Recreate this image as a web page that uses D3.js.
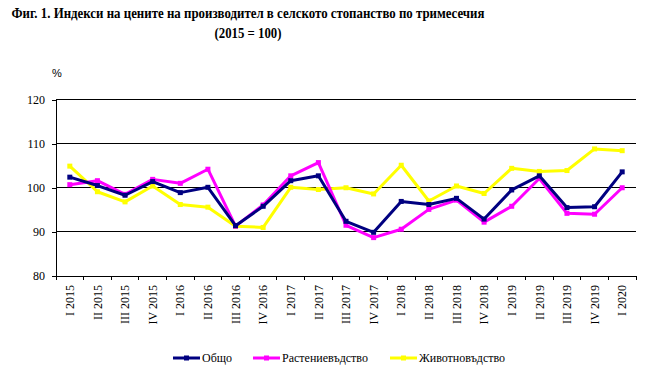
<!DOCTYPE html>
<html><head><meta charset="utf-8">
<script src="https://cdn.jsdelivr.net/npm/d3@7"></script>
<style>body{margin:0;background:#fff}svg{display:block}</style>
</head><body>
<script>
const categories = ["I 2015","II 2015","III 2015","IV 2015","I 2016","II 2016","III 2016","IV 2016","I 2017","II 2017","III 2017","IV 2017","I 2018","II 2018","III 2018","IV 2018","I 2019","II 2019","III 2019","IV 2019","I 2020"];
const total = [102.4,100.5,98.3,101.4,98.9,100.1,91.4,95.8,101.6,102.7,92.4,89.9,96.9,96.2,97.6,92.9,99.5,102.7,95.5,95.7,103.6];
const crops = [100.7,101.6,98.5,101.9,101.0,104.2,91.3,96.1,102.7,105.7,91.5,88.7,90.6,95.1,97.2,92.2,95.8,102.1,94.2,94.0,100.0];
const livestock = [104.9,99.1,96.8,100.4,96.2,95.6,91.3,91.0,100.1,99.6,100.0,98.6,105.1,97.0,100.4,98.7,104.4,103.7,103.9,108.8,108.4];
const yTicks = [80,90,100,110,120];
const seriesNames = ["Общо","Растениевъдство","Животновъдство"];
const seriesColors = ["#000080","#FF00FF","#FFFF00"];

const W=651,H=377;
const svg=d3.select("body").append("svg").attr("width",W).attr("height",H);
const x0=56,x1=636,yTop=99.5,yBot=276;
const x=d3.scaleBand().domain(categories).range([x0,x1]);
const y=d3.scaleLinear().domain([80,120]).range([yBot,yTop]);

svg.append("text").attr("x",248).attr("y",18).attr("text-anchor","middle")
 .attr("font-family","Liberation Serif, Times New Roman, serif").attr("font-weight","bold").attr("font-size",15)
 .attr("textLength",473).attr("lengthAdjust","spacingAndGlyphs")
 .text("Фиг. 1. Индекси на цените на производител в селското стопанство по тримесечия");
svg.append("text").attr("x",248).attr("y",38).attr("text-anchor","middle")
 .attr("font-family","Liberation Serif, Times New Roman, serif").attr("font-weight","bold").attr("font-size",15)
 .attr("textLength",67).attr("lengthAdjust","spacingAndGlyphs")
 .text("(2015 = 100)");
svg.append("text").attr("x",57).attr("y",77).attr("text-anchor","middle")
 .attr("font-family","Liberation Sans, Arial, sans-serif").attr("font-size",11).text("%");

// gridlines
svg.append("g").selectAll("line").data(yTicks.filter(d=>d>80)).join("line")
 .attr("x1",x0).attr("x2",x1).attr("y1",d=>y(d)).attr("y2",d=>y(d))
 .attr("stroke","#000").attr("stroke-width",1).attr("shape-rendering","crispEdges");

// y axis
const ya=svg.append("g").attr("transform",`translate(${x0},0)`)
 .call(d3.axisLeft(y).tickValues(yTicks).tickSize(4).tickPadding(7));
ya.select(".domain").attr("stroke","#000").attr("shape-rendering","crispEdges");
ya.selectAll(".tick line").attr("stroke","#000").attr("shape-rendering","crispEdges");
ya.selectAll("text").attr("font-family","Liberation Serif, Times New Roman, serif").attr("font-size",12).attr("fill","#000");

// x axis
const xa=svg.append("g").attr("transform",`translate(0,${yBot})`)
 .call(d3.axisBottom(x).tickSize(0).tickPadding(0));
xa.select(".domain").attr("stroke","#000").attr("shape-rendering","crispEdges");
const bounds=categories.map(c=>x(c)).concat([x1]);
svg.append("g").selectAll("line").data(bounds).join("line")
 .attr("x1",d=>d).attr("x2",d=>d).attr("y1",yBot).attr("y2",yBot+4)
 .attr("stroke","#000").attr("shape-rendering","crispEdges");
xa.selectAll(".tick text").attr("transform","rotate(-90)").attr("text-anchor","end")
 .attr("x",-9).attr("y",0).attr("dy","0.35em")
 .attr("font-family","Liberation Serif, Times New Roman, serif").attr("font-size",12).attr("fill","#000");

const data=[total,crops,livestock];
const line=d3.line().x((d,i)=>x(categories[i])+x.bandwidth()/2).y(d=>y(d));
// draw order: yellow, magenta, navy on top
[2,1,0].forEach(s=>{
  const g=svg.append("g");
  g.append("path").datum(data[s]).attr("d",line).attr("fill","none")
   .attr("stroke",seriesColors[s]).attr("stroke-width",3).attr("stroke-linejoin","round");
  g.selectAll("rect").data(data[s]).join("rect")
   .attr("x",(d,i)=>x(categories[i])+x.bandwidth()/2-2.5).attr("y",d=>y(d)-2.5)
   .attr("width",5).attr("height",5).attr("fill",seriesColors[s]);
});

// legend
const legX=[173,253,390];
seriesNames.forEach((n,i)=>{
  const g=svg.append("g");
  g.append("line").attr("x1",legX[i]).attr("x2",legX[i]+27).attr("y1",358).attr("y2",358)
   .attr("stroke",seriesColors[i]).attr("stroke-width",3);
  g.append("rect").attr("x",legX[i]+11).attr("y",355.5).attr("width",5).attr("height",5).attr("fill",seriesColors[i]);
  g.append("text").attr("x",legX[i]+29).attr("y",362).attr("font-family","Liberation Serif, Times New Roman, serif")
   .attr("font-size",12).text(n);
});
</script>
</body></html>
